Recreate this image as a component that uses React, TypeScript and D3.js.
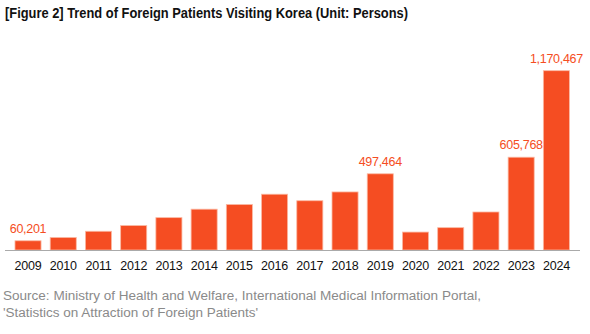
import React from "react";
import * as d3 from "d3";

const years = ["2009","2010","2011","2012","2013","2014","2015","2016","2017","2018","2019","2020","2021","2022","2023","2024"];
const patients = [60201, 81789, 122297, 159464, 211218, 266501, 296889, 364189, 321574, 378967, 497464, 117069, 145842, 248110, 605768, 1170467];
const labeledYears = ["2009", "2019", "2023", "2024"];
const titleText = "[Figure 2] Trend of Foreign Patients Visiting Korea (Unit: Persons)";
const sourceLines = [
  "Source: Ministry of Health and Welfare, International Medical Information Portal,",
  "'Statistics on Attraction of Foreign Patients'",
];

const W = 590, H = 334;
const baseline = 250;
const topY = 70.7;

export default function App() {
  const x = d3.scaleBand<string>().domain(years).range([10.4, 574]).paddingInner(0.26).paddingOuter(0.13);
  const y = d3.scaleLinear().domain([0, d3.max(patients) as number]).range([baseline, topY]);
  const fmt = d3.format(",");
  const font = "'Liberation Sans', Arial, sans-serif";
  return (
    <svg width={W} height={H} style={{ position: "absolute", left: 0, top: 0, background: "#fff" }} fontFamily={font}>
      <text x={5} y={18} fontSize={14.5} fontWeight="bold" fill="#111" textLength={403} lengthAdjust="spacingAndGlyphs">{titleText}</text>
      {years.map((yr, i) => (
        <rect key={yr} x={x(yr)} y={y(patients[i])} width={x.bandwidth()} height={baseline - y(patients[i])}
          fill="#F54D22" stroke="#fbb9a3" strokeWidth={0.8} />
      ))}
      <line x1={5} x2={580} y1={baseline + 0.5} y2={baseline + 0.5} stroke="#aaa" strokeWidth={1} />
      {years.map((yr, i) => labeledYears.includes(yr) ? (
        <text key={"l" + yr} x={(x(yr) as number) + x.bandwidth() / 2} y={y(patients[i]) - 8} textAnchor="middle"
          fontSize={12.5} fill="#F54D22" letterSpacing={-0.3}>{fmt(patients[i])}</text>
      ) : null)}
      {years.map((yr) => (
        <text key={"t" + yr} x={(x(yr) as number) + x.bandwidth() / 2} y={270} textAnchor="middle" fontSize={12.5} fill="#111" letterSpacing={-0.2}>{yr}</text>
      ))}
      <text x={3} y={299.5} fontSize={12.5} fill="#8a8a8a" textLength={478} lengthAdjust="spacingAndGlyphs">{sourceLines[0]}</text>
      <text x={3} y={317} fontSize={12.5} fill="#8a8a8a" textLength={255} lengthAdjust="spacingAndGlyphs">{sourceLines[1]}</text>
    </svg>
  );
}
